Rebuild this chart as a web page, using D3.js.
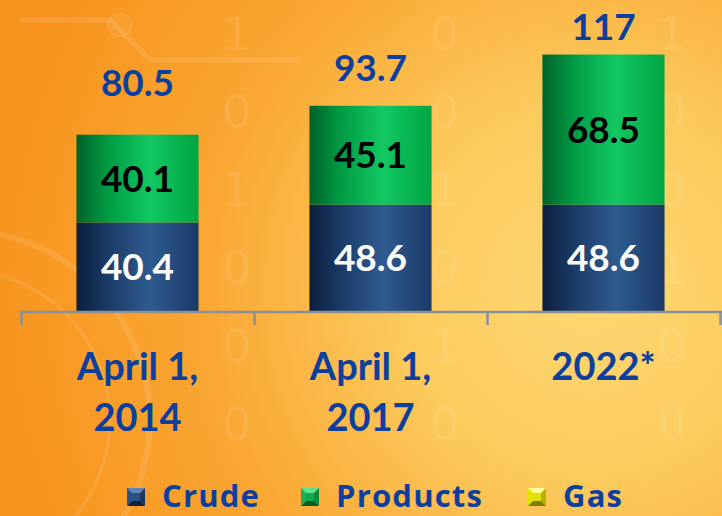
<!DOCTYPE html>
<html>
<head>
<meta charset="utf-8">
<script src="https://cdn.jsdelivr.net/npm/d3@7"></script>
<style>
  html, body { margin: 0; padding: 0; background: #f9a42c; }
  svg { display: block; font-family: Lato, "Open Sans", sans-serif; font-weight: 700; }
</style>
</head>
<body>
<svg id="chart"></svg>
<script>
// data
const categories = ["April 1, 2014", "April 1, 2017", "2022*"];
const crude = [40.4, 48.6, 48.6];
const products = [40.1, 45.1, 68.5];
const gas = [0, 0, 0];
const totals = ["80.5", "93.7", "117"];
const seriesNames = ["Crude", "Products", "Gas"];

const width = 722, height = 516;
const baseY = 311;

const svg = d3.select("#chart")
  .attr("width", width)
  .attr("height", height);

const defs = svg.append("defs");

// background glow
const bg = defs.append("radialGradient")
  .attr("id", "bg")
  .attr("gradientUnits", "userSpaceOnUse")
  .attr("cx", 590).attr("cy", 290).attr("r", 620);
bg.append("stop").attr("offset", "0%").attr("stop-color", "#fdd873");
bg.append("stop").attr("offset", "30%").attr("stop-color", "#fccb5e");
bg.append("stop").attr("offset", "62%").attr("stop-color", "#faa733");
bg.append("stop").attr("offset", "100%").attr("stop-color", "#f7921c");

function barGradient(id, stops) {
  const g = defs.append("linearGradient").attr("id", id)
    .attr("x1", "0%").attr("x2", "100%").attr("y1", "0%").attr("y2", "0%");
  stops.forEach(s => g.append("stop").attr("offset", s[0]).attr("stop-color", s[1]));
}
barGradient("g-crude", [["0%", "#0c1f3d"], ["25%", "#1b3a66"], ["60%", "#2f5b8f"], ["100%", "#1a3a68"]]);
barGradient("g-products", [["0%", "#00612a"], ["25%", "#009a44"], ["60%", "#12c862"], ["100%", "#00a543"]]);
barGradient("g-gas", [["0%", "#8a8a00"], ["60%", "#ffff33"], ["100%", "#c8c800"]]);

svg.append("rect")
  .attr("width", width).attr("height", height)
  .attr("fill", "url(#bg)");

// faint decoration
const deco = svg.append("g").attr("fill", "none").attr("stroke", "#fff").attr("stroke-opacity", 0.1);
deco.append("circle").attr("cx", -40).attr("cy", 420).attr("r", 190).attr("stroke-width", 6);
deco.append("circle").attr("cx", -40).attr("cy", 420).attr("r", 150).attr("stroke-width", 3);
deco.append("path").attr("d", "M20,20 L110,20 L150,60 L300,60").attr("stroke-width", 5);
deco.append("circle").attr("cx", 120).attr("cy", 25).attr("r", 12).attr("fill", "#fff").attr("fill-opacity", 0.06);

const digitCols = [
  { x: 237, ds: ["1", "0", "1", "0", "0", "0"] },
  { x: 445, ds: ["0", "0", "1", "0", "1", "0"] },
  { x: 672, ds: ["1", "0", "0", "1", "0", "0"] }
];
const digits = svg.append("g")
  .attr("fill", "#fff").attr("fill-opacity", 0.09)
  .attr("font-family", "'DejaVu Sans', sans-serif")
  .attr("font-weight", 400).attr("font-size", 46)
  .attr("text-anchor", "middle");
digitCols.forEach(c => {
  c.ds.forEach((d, i) => {
    digits.append("text").attr("x", c.x).attr("y", 50 + i * 78).text(d);
  });
});

// scales
const x = d3.scaleBand()
  .domain(categories)
  .range([21, 720])
  .paddingInner(0.476)
  .paddingOuter(0.238);

const y = d3.scaleLinear()
  .domain([0, 142])
  .range([baseY, 0]);

const rows = categories.map((c, i) => ({ cat: c, Crude: crude[i], Products: products[i], Gas: gas[i] }));
const stack = d3.stack().keys(seriesNames)(rows);
const fills = { Crude: "url(#g-crude)", Products: "url(#g-products)", Gas: "url(#g-gas)" };
const textFill = { Crude: "#ffffff", Products: "#000000", Gas: "#000000" };

const layers = svg.append("g").selectAll("g")
  .data(stack)
  .join("g")
  .attr("fill", d => fills[d.key]);

layers.selectAll("rect")
  .data(d => d.filter(p => p[1] - p[0] > 0))
  .join("rect")
  .attr("x", d => x(d.data.cat))
  .attr("width", x.bandwidth())
  .attr("y", d => y(d[1]))
  .attr("height", d => y(d[0]) - y(d[1]));

// value labels inside segments
stack.forEach(layer => {
  svg.append("g").selectAll("text")
    .data(layer.filter(p => p[1] - p[0] > 0))
    .join("text")
    .attr("x", d => x(d.data.cat) + x.bandwidth() / 2)
    .attr("y", d => y((d[0] + d[1]) / 2))
    .attr("dy", "0.36em")
    .attr("text-anchor", "middle")
    .attr("font-size", 37)
    .attr("fill", textFill[layer.key])
    .text(d => (d[1] - d[0]).toFixed(1));
});

// axis: boundary ticks between categories
const xb = d3.scaleLinear().domain([0, categories.length]).range(x.range());
svg.append("g")
  .attr("transform", `translate(0,${baseY + 1})`)
  .call(d3.axisBottom(xb).ticks(categories.length).tickSize(13).tickSizeOuter(0).tickFormat(""))
  .call(g => g.selectAll("path, line").attr("stroke", "#8b8f97").attr("stroke-width", 2.5))
  .call(g => g.select(".domain").attr("d", `M20,0H722`));

// totals above bars
const labelNudge = [-14, 0, 10];
svg.append("g").selectAll("text")
  .data(totals)
  .join("text")
  .attr("x", (d, i) => x(categories[i]) + x.bandwidth() / 2)
  .attr("y", (d, i) => y(crude[i] + products[i] + gas[i]) - 25 + labelNudge[i])
  .attr("text-anchor", "middle")
  .attr("font-size", 37)
  .attr("fill", "#0d3f9f")
  .text(d => d);

// category labels
const catLabels = svg.append("g").selectAll("text")
  .data(categories)
  .join("text")
  .attr("text-anchor", "middle")
  .attr("font-size", 38)
  .attr("fill", "#0d3f9f");
catLabels.each(function (d) {
  const t = d3.select(this);
  const cx = x(d) + x.bandwidth() / 2;
  const parts = d.includes(",") ? [d.slice(0, d.indexOf(",") + 1), d.slice(d.indexOf(",") + 2)] : [d];
  parts.forEach((p, i) => {
    t.append("tspan").attr("x", cx).attr("y", 380 + i * 51).text(p);
  });
});

// legend
const swatchColors = {
  Crude: ["#5d84bb", "#2c5186", "#1b3760", "#0f2340", "#2b5286"],
  Products: ["#5fe08f", "#18b155", "#0a8a3c", "#045e27", "#14a84d"],
  Gas: ["#ffff9a", "#e3e300", "#b5b500", "#7d7d00", "#dede10"]
};
const legendX = [127, 301, 528];
const legend = svg.append("g").selectAll("g")
  .data(seriesNames)
  .join("g")
  .attr("transform", (d, i) => `translate(${legendX[i]},488)`);

const s = 18, k = 5;
legend.each(function (d) {
  const g = d3.select(this);
  const c = swatchColors[d];
  const faces = [
    [[0, 0], [s, 0], [s - k, k], [k, k]],
    [[0, 0], [k, k], [k, s - k], [0, s]],
    [[s, 0], [s, s], [s - k, s - k], [s - k, k]],
    [[0, s], [k, s - k], [s - k, s - k], [s, s]]
  ];
  faces.forEach((f, i) => g.append("path").attr("d", d3.line()(f) + "Z").attr("fill", c[i]));
  g.append("rect").attr("x", k).attr("y", k).attr("width", s - 2 * k).attr("height", s - 2 * k).attr("fill", c[4]);
  g.append("text")
    .attr("x", 35).attr("y", 19)
    .attr("font-family", "'Open Sans', sans-serif")
    .attr("font-size", 31)
    .attr("letter-spacing", 1.2)
    .attr("fill", "#0d3f9f")
    .text(d);
});
</script>
</body>
</html>
